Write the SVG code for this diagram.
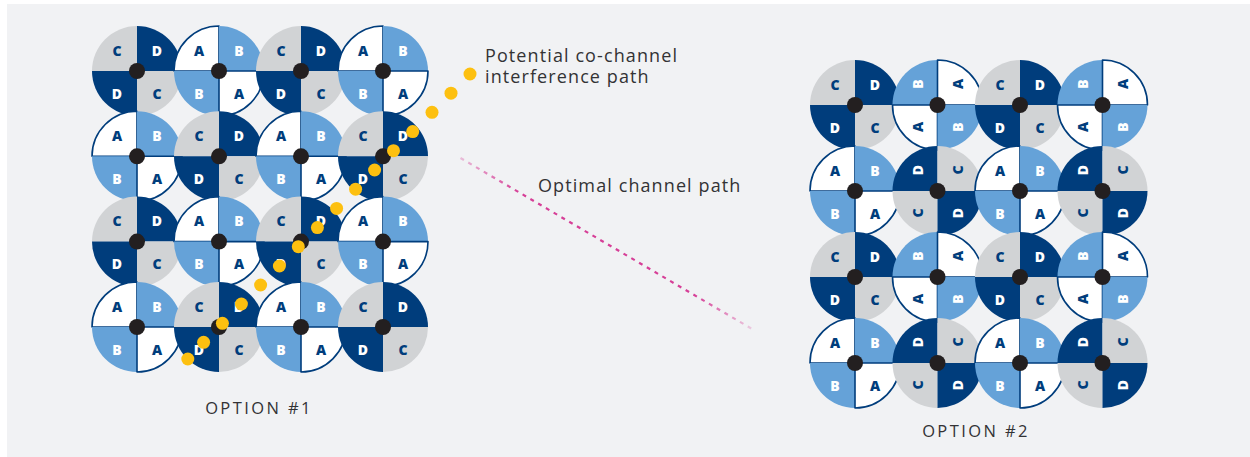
<svg xmlns="http://www.w3.org/2000/svg" xmlns:xlink="http://www.w3.org/1999/xlink" width="1250" height="457" viewBox="0 0 1250 457">
<style>
.g{fill:#d1d3d5}
.n{fill:#003d7c}
.b{fill:#65a2d8}
.w{fill:#ffffff;stroke:#003d7c;stroke-width:1.6;stroke-linejoin:round}
text.l{font-family:"Open Sans","Liberation Sans",sans-serif;font-weight:800;font-size:14px;text-anchor:middle;dominant-baseline:central}
.tn{fill:#003d7c}
.tw{fill:#ffffff}
.dot{fill:#231f20}
.y{fill:#fdc010}
.lab{font-family:"Open Sans","Liberation Sans",sans-serif;font-size:18px;fill:#333335;letter-spacing:1.1px}
.opt{font-family:"Open Sans","Liberation Sans",sans-serif;font-size:16.5px;fill:#333335;letter-spacing:2.4px;text-anchor:middle}
</style>
<defs>
<path id="tl" d="M0 0H-45A45 45 0 0 1 0 -45Z"/>
<path id="tr" d="M0 0V-45A45 45 0 0 1 45 0Z"/>
<path id="br" d="M0 0H45A45 45 0 0 1 0 45Z"/>
<path id="bl" d="M0 0V45A45 45 0 0 1 -45 0Z"/>
<linearGradient id="mg" x1="0" y1="0" x2="1" y2="1">
<stop offset="0" stop-color="#d63f97" stop-opacity="0.3"/>
<stop offset="0.2" stop-color="#d63f97" stop-opacity="1"/>
<stop offset="0.8" stop-color="#d63f97" stop-opacity="1"/>
<stop offset="1" stop-color="#d63f97" stop-opacity="0.2"/>
</linearGradient>
</defs>
<rect x="7" y="4" width="1243" height="453" fill="#f1f2f4"/>

<g id="option1">
<!-- row 1 -->
<g id="o1-r1c1" transform="translate(137 71)"><use href="#tl" class="g"/><use href="#tr" class="n"/><use href="#bl" class="n"/><use href="#br" class="g"/><text class="l tn" x="-20" y="-21">C</text><text class="l tw" x="20" y="-21">D</text><text class="l tw" x="-20" y="22">D</text><text class="l tn" x="20" y="22">C</text><circle r="8" class="dot"/></g>
<g id="o1-r1c2" transform="translate(219 71)"><use href="#tl" class="w"/><use href="#tr" class="b"/><use href="#bl" class="b"/><use href="#br" class="w"/><text class="l tn" x="-20" y="-21">A</text><text class="l tw" x="20" y="-21">B</text><text class="l tw" x="-20" y="22">B</text><text class="l tn" x="20" y="22">A</text><circle r="8" class="dot"/></g>
<g id="o1-r1c3" transform="translate(301 71)"><use href="#tl" class="g"/><use href="#tr" class="n"/><use href="#bl" class="n"/><use href="#br" class="g"/><text class="l tn" x="-20" y="-21">C</text><text class="l tw" x="20" y="-21">D</text><text class="l tw" x="-20" y="22">D</text><text class="l tn" x="20" y="22">C</text><circle r="8" class="dot"/></g>
<g id="o1-r1c4" transform="translate(383 71)"><use href="#tl" class="w"/><use href="#tr" class="b"/><use href="#bl" class="b"/><use href="#br" class="w"/><text class="l tn" x="-20" y="-21">A</text><text class="l tw" x="20" y="-21">B</text><text class="l tw" x="-20" y="22">B</text><text class="l tn" x="20" y="22">A</text><circle r="8" class="dot"/></g>
<!-- row 2 -->
<g id="o1-r2c1" transform="translate(137 156.3)"><use href="#tl" class="w"/><use href="#tr" class="b"/><use href="#bl" class="b"/><use href="#br" class="w"/><text class="l tn" x="-20" y="-21">A</text><text class="l tw" x="20" y="-21">B</text><text class="l tw" x="-20" y="22">B</text><text class="l tn" x="20" y="22">A</text><circle r="8" class="dot"/></g>
<g id="o1-r2c2" transform="translate(219 156.3)"><use href="#tl" class="g"/><use href="#tr" class="n"/><use href="#bl" class="n"/><use href="#br" class="g"/><text class="l tn" x="-20" y="-21">C</text><text class="l tw" x="20" y="-21">D</text><text class="l tw" x="-20" y="22">D</text><text class="l tn" x="20" y="22">C</text><circle r="8" class="dot"/></g>
<g id="o1-r2c3" transform="translate(301 156.3)"><use href="#tl" class="w"/><use href="#tr" class="b"/><use href="#bl" class="b"/><use href="#br" class="w"/><text class="l tn" x="-20" y="-21">A</text><text class="l tw" x="20" y="-21">B</text><text class="l tw" x="-20" y="22">B</text><text class="l tn" x="20" y="22">A</text><circle r="8" class="dot"/></g>
<g id="o1-r2c4" transform="translate(383 156.3)"><use href="#tl" class="g"/><use href="#tr" class="n"/><use href="#bl" class="n"/><use href="#br" class="g"/><text class="l tn" x="-20" y="-21">C</text><text class="l tw" x="20" y="-21">D</text><text class="l tw" x="-20" y="22">D</text><text class="l tn" x="20" y="22">C</text><circle r="8" class="dot"/></g>
<!-- row 3 -->
<g id="o1-r3c1" transform="translate(137 241.6)"><use href="#tl" class="g"/><use href="#tr" class="n"/><use href="#bl" class="n"/><use href="#br" class="g"/><text class="l tn" x="-20" y="-21">C</text><text class="l tw" x="20" y="-21">D</text><text class="l tw" x="-20" y="22">D</text><text class="l tn" x="20" y="22">C</text><circle r="8" class="dot"/></g>
<g id="o1-r3c2" transform="translate(219 241.6)"><use href="#tl" class="w"/><use href="#tr" class="b"/><use href="#bl" class="b"/><use href="#br" class="w"/><text class="l tn" x="-20" y="-21">A</text><text class="l tw" x="20" y="-21">B</text><text class="l tw" x="-20" y="22">B</text><text class="l tn" x="20" y="22">A</text><circle r="8" class="dot"/></g>
<g id="o1-r3c3" transform="translate(301 241.6)"><use href="#tl" class="g"/><use href="#tr" class="n"/><use href="#bl" class="n"/><use href="#br" class="g"/><text class="l tn" x="-20" y="-21">C</text><text class="l tw" x="20" y="-21">D</text><text class="l tw" x="-20" y="22">D</text><text class="l tn" x="20" y="22">C</text><circle r="8" class="dot"/></g>
<g id="o1-r3c4" transform="translate(383 241.6)"><use href="#tl" class="w"/><use href="#tr" class="b"/><use href="#bl" class="b"/><use href="#br" class="w"/><text class="l tn" x="-20" y="-21">A</text><text class="l tw" x="20" y="-21">B</text><text class="l tw" x="-20" y="22">B</text><text class="l tn" x="20" y="22">A</text><circle r="8" class="dot"/></g>
<!-- row 4 -->
<g id="o1-r4c1" transform="translate(137 327)"><use href="#tl" class="w"/><use href="#tr" class="b"/><use href="#bl" class="b"/><use href="#br" class="w"/><text class="l tn" x="-20" y="-21">A</text><text class="l tw" x="20" y="-21">B</text><text class="l tw" x="-20" y="22">B</text><text class="l tn" x="20" y="22">A</text><circle r="8" class="dot"/></g>
<g id="o1-r4c2" transform="translate(219 327)"><use href="#tl" class="g"/><use href="#tr" class="n"/><use href="#bl" class="n"/><use href="#br" class="g"/><text class="l tn" x="-20" y="-21">C</text><text class="l tw" x="20" y="-21">D</text><text class="l tw" x="-20" y="22">D</text><text class="l tn" x="20" y="22">C</text><circle r="8" class="dot"/></g>
<g id="o1-r4c3" transform="translate(301 327)"><use href="#tl" class="w"/><use href="#tr" class="b"/><use href="#bl" class="b"/><use href="#br" class="w"/><text class="l tn" x="-20" y="-21">A</text><text class="l tw" x="20" y="-21">B</text><text class="l tw" x="-20" y="22">B</text><text class="l tn" x="20" y="22">A</text><circle r="8" class="dot"/></g>
<g id="o1-r4c4" transform="translate(383 327)"><use href="#tl" class="g"/><use href="#tr" class="n"/><use href="#bl" class="n"/><use href="#br" class="g"/><text class="l tn" x="-20" y="-21">C</text><text class="l tw" x="20" y="-21">D</text><text class="l tw" x="-20" y="22">D</text><text class="l tn" x="20" y="22">C</text><circle r="8" class="dot"/></g>
</g>

<g id="option2">
<!-- row 1 -->
<g id="o2-r1c1" transform="translate(855 105)"><use href="#tl" class="g"/><use href="#tr" class="n"/><use href="#bl" class="n"/><use href="#br" class="g"/><text class="l tn" x="-20" y="-21">C</text><text class="l tw" x="20" y="-21">D</text><text class="l tw" x="-20" y="22">D</text><text class="l tn" x="20" y="22">C</text><circle r="8" class="dot"/></g>
<g id="o2-r1c2" transform="translate(937.5 105)"><use href="#tl" class="b"/><use href="#tr" class="w"/><use href="#bl" class="w"/><use href="#br" class="b"/><text class="l tw" transform="translate(-20 -21) rotate(-90)">B</text><text class="l tn" transform="translate(20 -21) rotate(-90)">A</text><text class="l tn" transform="translate(-20 22) rotate(-90)">A</text><text class="l tw" transform="translate(20 22) rotate(-90)">B</text><circle r="8" class="dot"/></g>
<g id="o2-r1c3" transform="translate(1020 105)"><use href="#tl" class="g"/><use href="#tr" class="n"/><use href="#bl" class="n"/><use href="#br" class="g"/><text class="l tn" x="-20" y="-21">C</text><text class="l tw" x="20" y="-21">D</text><text class="l tw" x="-20" y="22">D</text><text class="l tn" x="20" y="22">C</text><circle r="8" class="dot"/></g>
<g id="o2-r1c4" transform="translate(1102.5 105)"><use href="#tl" class="b"/><use href="#tr" class="w"/><use href="#bl" class="w"/><use href="#br" class="b"/><text class="l tw" transform="translate(-20 -21) rotate(-90)">B</text><text class="l tn" transform="translate(20 -21) rotate(-90)">A</text><text class="l tn" transform="translate(-20 22) rotate(-90)">A</text><text class="l tw" transform="translate(20 22) rotate(-90)">B</text><circle r="8" class="dot"/></g>
<!-- row 2 -->
<g id="o2-r2c1" transform="translate(855 191)"><use href="#tl" class="w"/><use href="#tr" class="b"/><use href="#bl" class="b"/><use href="#br" class="w"/><text class="l tn" x="-20" y="-21">A</text><text class="l tw" x="20" y="-21">B</text><text class="l tw" x="-20" y="22">B</text><text class="l tn" x="20" y="22">A</text><circle r="8" class="dot"/></g>
<g id="o2-r2c2" transform="translate(937.5 191)"><use href="#tl" class="n"/><use href="#tr" class="g"/><use href="#bl" class="g"/><use href="#br" class="n"/><text class="l tw" transform="translate(-20 -21) rotate(-90)">D</text><text class="l tn" transform="translate(20 -21) rotate(-90)">C</text><text class="l tn" transform="translate(-20 22) rotate(-90)">C</text><text class="l tw" transform="translate(20 22) rotate(-90)">D</text><circle r="8" class="dot"/></g>
<g id="o2-r2c3" transform="translate(1020 191)"><use href="#tl" class="w"/><use href="#tr" class="b"/><use href="#bl" class="b"/><use href="#br" class="w"/><text class="l tn" x="-20" y="-21">A</text><text class="l tw" x="20" y="-21">B</text><text class="l tw" x="-20" y="22">B</text><text class="l tn" x="20" y="22">A</text><circle r="8" class="dot"/></g>
<g id="o2-r2c4" transform="translate(1102.5 191)"><use href="#tl" class="n"/><use href="#tr" class="g"/><use href="#bl" class="g"/><use href="#br" class="n"/><text class="l tw" transform="translate(-20 -21) rotate(-90)">D</text><text class="l tn" transform="translate(20 -21) rotate(-90)">C</text><text class="l tn" transform="translate(-20 22) rotate(-90)">C</text><text class="l tw" transform="translate(20 22) rotate(-90)">D</text><circle r="8" class="dot"/></g>
<!-- row 3 -->
<g id="o2-r3c1" transform="translate(855 277)"><use href="#tl" class="g"/><use href="#tr" class="n"/><use href="#bl" class="n"/><use href="#br" class="g"/><text class="l tn" x="-20" y="-21">C</text><text class="l tw" x="20" y="-21">D</text><text class="l tw" x="-20" y="22">D</text><text class="l tn" x="20" y="22">C</text><circle r="8" class="dot"/></g>
<g id="o2-r3c2" transform="translate(937.5 277)"><use href="#tl" class="b"/><use href="#tr" class="w"/><use href="#bl" class="w"/><use href="#br" class="b"/><text class="l tw" transform="translate(-20 -21) rotate(-90)">B</text><text class="l tn" transform="translate(20 -21) rotate(-90)">A</text><text class="l tn" transform="translate(-20 22) rotate(-90)">A</text><text class="l tw" transform="translate(20 22) rotate(-90)">B</text><circle r="8" class="dot"/></g>
<g id="o2-r3c3" transform="translate(1020 277)"><use href="#tl" class="g"/><use href="#tr" class="n"/><use href="#bl" class="n"/><use href="#br" class="g"/><text class="l tn" x="-20" y="-21">C</text><text class="l tw" x="20" y="-21">D</text><text class="l tw" x="-20" y="22">D</text><text class="l tn" x="20" y="22">C</text><circle r="8" class="dot"/></g>
<g id="o2-r3c4" transform="translate(1102.5 277)"><use href="#tl" class="b"/><use href="#tr" class="w"/><use href="#bl" class="w"/><use href="#br" class="b"/><text class="l tw" transform="translate(-20 -21) rotate(-90)">B</text><text class="l tn" transform="translate(20 -21) rotate(-90)">A</text><text class="l tn" transform="translate(-20 22) rotate(-90)">A</text><text class="l tw" transform="translate(20 22) rotate(-90)">B</text><circle r="8" class="dot"/></g>
<!-- row 4 -->
<g id="o2-r4c1" transform="translate(855 363)"><use href="#tl" class="w"/><use href="#tr" class="b"/><use href="#bl" class="b"/><use href="#br" class="w"/><text class="l tn" x="-20" y="-21">A</text><text class="l tw" x="20" y="-21">B</text><text class="l tw" x="-20" y="22">B</text><text class="l tn" x="20" y="22">A</text><circle r="8" class="dot"/></g>
<g id="o2-r4c2" transform="translate(937.5 363)"><use href="#tl" class="n"/><use href="#tr" class="g"/><use href="#bl" class="g"/><use href="#br" class="n"/><text class="l tw" transform="translate(-20 -21) rotate(-90)">D</text><text class="l tn" transform="translate(20 -21) rotate(-90)">C</text><text class="l tn" transform="translate(-20 22) rotate(-90)">C</text><text class="l tw" transform="translate(20 22) rotate(-90)">D</text><circle r="8" class="dot"/></g>
<g id="o2-r4c3" transform="translate(1020 363)"><use href="#tl" class="w"/><use href="#tr" class="b"/><use href="#bl" class="b"/><use href="#br" class="w"/><text class="l tn" x="-20" y="-21">A</text><text class="l tw" x="20" y="-21">B</text><text class="l tw" x="-20" y="22">B</text><text class="l tn" x="20" y="22">A</text><circle r="8" class="dot"/></g>
<g id="o2-r4c4" transform="translate(1102.5 363)"><use href="#tl" class="n"/><use href="#tr" class="g"/><use href="#bl" class="g"/><use href="#br" class="n"/><text class="l tw" transform="translate(-20 -21) rotate(-90)">D</text><text class="l tn" transform="translate(20 -21) rotate(-90)">C</text><text class="l tn" transform="translate(-20 22) rotate(-90)">C</text><text class="l tw" transform="translate(20 22) rotate(-90)">D</text><circle r="8" class="dot"/></g>
</g>

<g id="connectors">
<g id="interference-path" class="y">
<circle cx="470" cy="74" r="6.5"/>
<circle cx="451" cy="93.2" r="6.5"/>
<circle cx="432" cy="112.3" r="6.5"/>
<circle cx="412.7" cy="131.6" r="6.5"/>
<circle cx="393.5" cy="150.7" r="6.5"/>
<circle cx="374.6" cy="170" r="6.5"/>
<circle cx="355.6" cy="189.2" r="6.5"/>
<circle cx="336.6" cy="208.4" r="6.5"/>
<circle cx="317.4" cy="227.6" r="6.5"/>
<circle cx="298.3" cy="246.7" r="6.5"/>
<circle cx="279.4" cy="266" r="6.5"/>
<circle cx="260.6" cy="285" r="6.5"/>
<circle cx="241.4" cy="304" r="6.5"/>
<circle cx="222.4" cy="323.3" r="6.5"/>
<circle cx="203.6" cy="342.3" r="6.5"/>
<circle cx="187.8" cy="359" r="6.5"/>
</g>
<line id="optimal-path" x1="460.5" y1="158" x2="753" y2="329.5" stroke="url(#mg)" stroke-width="2.2" stroke-dasharray="4 5"/>
</g>

<g id="labels">
<text class="lab" x="485" y="62">Potential co-channel</text>
<text class="lab" x="485" y="82.5">interference path</text>
<text class="lab" x="538" y="192">Optimal channel path</text>
<text class="opt" x="259" y="414">OPTION #1</text>
<text class="opt" x="976" y="437">OPTION #2</text>
</g>
</svg>
